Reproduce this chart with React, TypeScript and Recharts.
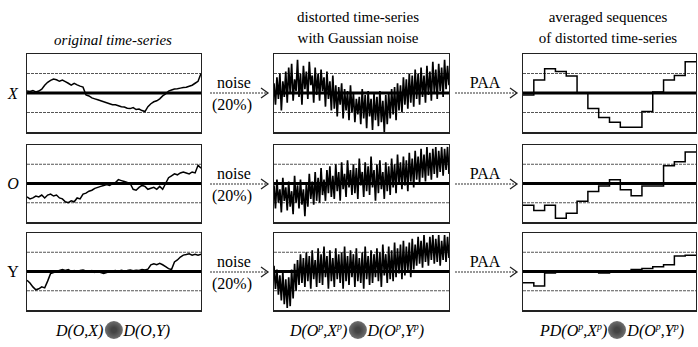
import React from "react"
import { LineChart, Line, XAxis, YAxis, ReferenceLine } from "recharts"

// ---- data (y units: grid at ±1, frame at ±2) ----

const originalX = [
  0.1, 0.08, 0.12, 0.05, 0.1, 0.2, 0.4, 0.55, 0.65, 0.72,
  0.68, 0.6, 0.66, 0.58, 0.5, 0.4, 0.5, 0.42, 0.35, 0.3,
  -0.1, -0.15, -0.25, -0.3, -0.35, -0.4, -0.45, -0.5, -0.55, -0.6,
  -0.6, -0.65, -0.7, -0.72, -0.78, -0.8, -0.75, -0.85, -0.82, -0.9,
  -0.95, -0.7, -0.55, -0.45, -0.4, -0.3, -0.15, -0.05, 0.1, 0.15,
  0.2, 0.22, 0.25, 0.28, 0.3, 0.35, 0.4, 0.5, 0.6, 1.0,
]

const originalO = [
  -0.7, -0.8, -0.75, -0.65, -0.7, -0.6, -0.75, -0.6, -0.55, -0.65,
  -0.6, -0.75, -0.8, -0.95, -1.0, -0.9, -0.95, -0.75, -0.8, -0.55,
  -0.5, -0.4, -0.35, -0.25, -0.2, -0.15, -0.1, -0.05, -0.1, 0.0,
  0.05, 0.2, 0.15, 0.1, 0.05, 0.0, -0.3, -0.35, -0.2, -0.1,
  -0.15, -0.3, -0.25, -0.2, -0.3, -0.15, -0.3, 0.0, 0.3, 0.4,
  0.5, 0.45, 0.55, 0.6, 0.55, 0.5, 0.6, 0.55, 0.95, 0.8,
]

const originalY = [
  -0.45, -0.6, -0.8, -0.95, -0.9, -0.8, -0.85, -0.5, -0.1, -0.05,
  0.0, 0.05, 0.1, 0.05, 0.1, 0.0, 0.05, -0.02, 0.05, 0.08,
  0.03, 0.0, 0.05, -0.05, 0.02, -0.05, -0.1, -0.05, 0.0, 0.03,
  0.05, 0.02, 0.06, 0.03, 0.05, 0.08, 0.04, 0.06, 0.05, 0.1,
  0.08, 0.12, 0.35, 0.4, 0.35, 0.42, 0.35, 0.25, 0.15, 0.1,
  0.5, 0.6, 0.75, 0.85, 0.88, 0.92, 0.85, 0.9, 0.85, 0.9,
]

const noisyX = [
  0.5, -0.6, 0.8, -0.3, 1.0, -0.9, 0.6, -0.2, 1.1, -0.5,
  1.3, 0.0, 1.5, -0.4, 0.7, 0.1, 1.7, -0.2, 1.0, -0.6,
  1.4, 0.2, 1.1, -0.3, 1.6, 0.4, 0.9, -0.5, 1.3, -0.1,
  1.0, -0.4, 1.2, 0.1, 0.8, -0.7, 1.1, -0.3, 0.6, -0.9,
  0.9, -0.8, 0.4, -1.2, 0.3, -0.6, 0.5, -1.3, 0.2, -0.9,
  0.1, -1.4, 0.4, -1.0, 0.0, -1.5, -0.3, -1.1, -0.2, -1.6,
  0.2, -1.3, -0.1, -1.8, 0.1, -1.2, -0.3, -1.9, 0.0, -1.4,
  -0.2, -1.7, 0.1, -1.5, -0.4, -2.0, -0.1, -1.6, 0.0, -1.3,
  0.2, -1.1, 0.3, -1.4, 0.5, -0.9, 0.4, -1.0, 0.8, -0.6,
  0.7, -0.8, 1.0, -0.5, 0.9, -0.7, 1.2, -0.3, 1.0, -0.6,
  1.3, -0.2, 0.9, -0.5, 1.4, -0.1, 1.1, -0.4, 1.6, 0.0,
  1.2, -0.3, 1.5, 0.1, 1.3, -0.2, 1.7, 0.2, 1.4, 0.4,
]

const noisyO = [
  -0.1, -1.3, 0.2, -1.0, -0.3, -1.5, 0.3, -0.9, -0.2, -1.4,
  0.1, -1.2, -0.4, -1.6, 0.4, -1.0, -0.1, -1.3, 0.2, -1.1,
  -0.3, -1.7, 0.0, -1.2, 0.5, -0.8, 0.1, -1.1, 0.6, -0.9,
  0.3, -1.0, 0.8, -0.6, 0.2, -0.9, 0.7, -0.5, 0.9, -0.7,
  0.4, -0.8, 1.0, -0.4, 0.6, -0.9, 1.1, -0.3, 0.5, -0.7,
  1.2, -0.2, 0.7, -0.6, 1.0, -0.5, 0.8, -0.8, 1.3, -0.1,
  0.6, -0.7, 1.1, -0.4, 0.9, -0.6, 1.4, -0.2, 0.7, -0.9,
  1.0, -0.5, 1.2, -0.3, 0.6, -0.8, 1.1, -0.4, 0.9, -0.6,
  1.3, -0.2, 1.0, -0.5, 1.5, 0.0, 1.1, -0.3, 1.4, -0.1,
  1.2, -0.4, 1.6, 0.1, 1.3, -0.2, 1.7, 0.2, 1.4, 0.0,
  1.8, 0.3, 1.5, 0.1, 1.9, 0.4, 1.6, 0.2, 1.8, 0.5,
  1.9, 0.3, 1.7, 0.6, 1.9, 0.4, 1.8, 0.7, 1.9, 0.5,
]

const noisyY = [
  0.3, -0.9, 0.1, -1.2, -0.2, -1.5, 0.0, -1.7, -0.4, -1.9,
  -0.3, -1.8, 0.1, -1.4, 0.4, -1.0, 0.6, -0.7, 0.9, -0.6,
  0.7, -0.8, 1.0, -0.5, 0.8, -0.9, 1.1, -0.4, 0.6, -0.8,
  1.2, -0.6, 0.9, -0.7, 1.3, -0.3, 0.8, -0.9, 1.1, -0.5,
  0.7, -0.8, 1.2, -0.4, 0.9, -0.6, 1.0, -0.9, 1.3, -0.5,
  0.8, -0.7, 1.1, -0.3, 0.9, -0.8, 1.2, -0.5, 0.7, -0.6,
  1.0, -0.9, 1.3, -0.4, 0.8, -0.7, 1.1, -0.6, 0.9, -0.3,
  1.2, -0.5, 1.0, -0.8, 1.4, -0.2, 0.9, -0.6, 1.3, -0.4,
  1.1, -0.5, 1.5, -0.3, 1.2, -0.1, 1.4, -0.4, 1.6, -0.2,
  1.3, 0.0, 1.5, -0.3, 1.7, 0.1, 1.4, 0.3, 1.8, 0.4,
  1.6, 0.2, 1.9, 0.5, 1.5, 0.3, 1.8, 0.6, 1.9, 0.4,
  1.7, 0.5, 1.9, 0.3, 1.6, 0.6, 1.9, 0.5, 1.8, 0.7,
]

// PAA: 16 segment means
const paaX = [-0.1, 0.67, 1.25, 1.1, 0.87, 0.0, -0.8, -1.25, -1.5, -1.75, -1.75, -0.95, 0.05, 0.67, 0.9, 1.6]
const paaO = [-1.13, -1.4, -1.13, -1.8, -1.55, -0.92, -0.42, -0.13, 0.2, -0.33, -0.63, -0.13, -0.13, 0.92, 1.13, 1.63]
const paaY = [-0.58, -0.75, -0.08, 0.0, 0.0, 0.0, 0.0, -0.08, 0.0, 0.0, 0.1, 0.15, 0.25, 0.35, 0.8, 0.85]

const rowLabels = ["X", "O", "Y"]

// ---- layout ----
const colLeft = [26, 273, 522]
const colWidth = [176, 177, 175]
const rowTop = [53, 144, 232]
const rowHeight = [81, 80, 80]

const serif = "'Liberation Serif', 'Times New Roman', serif"

type Kind = "line" | "noise" | "step"

function Panel({ values, kind, row, col }: { values: number[]; kind: Kind; row: number; col: number }) {
  const w = colWidth[col]
  const h = rowHeight[row]
  const data = values.map((v, i) => ({ x: i, v }))
  // step charts need a closing point so the last segment has width
  if (kind === "step") data.push({ x: values.length, v: values[values.length - 1] })
  const xMax = kind === "step" ? values.length : values.length - 1

  return (
    <div
      style={{
        position: "absolute",
        left: colLeft[col],
        top: rowTop[row],
        width: w,
        height: h,
        border: "1px solid #222",
        borderBottomWidth: 2,
        boxSizing: "border-box",
        background: "#fff",
      }}
    >
      <LineChart width={w - 2} height={h - 3} data={data} margin={{ top: 0, right: 0, bottom: 0, left: 0 }}>
        <XAxis type="number" dataKey="x" domain={[0, xMax]} hide />
        <YAxis type="number" domain={[-2, 2]} allowDataOverflow hide />
        <ReferenceLine y={1} stroke="#555" strokeDasharray="3 1" />
        <ReferenceLine y={-1} stroke="#555" strokeDasharray="3 1" />
        <ReferenceLine y={0} stroke="#000" strokeWidth={3} />
        <Line
          type={kind === "step" ? "stepAfter" : "linear"}
          dataKey="v"
          stroke="#000"
          strokeWidth={kind === "noise" ? 1.7 : 1.5}
          dot={false}
          isAnimationActive={false}
        />
      </LineChart>
    </div>
  )
}

function Blob() {
  return (
    <span
      style={{
        display: "inline-block",
        width: 18,
        height: 18,
        borderRadius: "50%",
        background: "radial-gradient(circle, #444 20%, #666 60%, #999 100%)",
        verticalAlign: -3,
        margin: "0 1px",
      }}
    />
  )
}

function Text({ x, y, children, size = 15, italic = false }: { x: number; y: number; children: React.ReactNode; size?: number; italic?: boolean }) {
  return (
    <div
      style={{
        position: "absolute",
        left: x,
        top: y,
        transform: "translate(-50%, -50%)",
        fontFamily: serif,
        fontSize: size,
        fontStyle: italic ? "italic" : "normal",
        whiteSpace: "nowrap",
        color: "#000",
        lineHeight: 1,
      }}
    >
      {children}
    </div>
  )
}

function Arrow({ x1, x2, y }: { x1: number; x2: number; y: number }) {
  return (
    <svg style={{ position: "absolute", left: 0, top: 0 }} width={698} height={347}>
      <line x1={x1} y1={y} x2={x2} y2={y} stroke="#333" strokeWidth={1.2} strokeDasharray="2 1" />
      <path d={`M${x2 - 7},${y - 5} L${x2},${y} L${x2 - 7},${y + 5}`} fill="none" stroke="#222" strokeWidth={1.3} />
    </svg>
  )
}

export default function App() {
  const series = [
    [originalX, noisyX, paaX],
    [originalO, noisyO, paaO],
    [originalY, noisyY, paaY],
  ]
  const kinds: Kind[] = ["line", "noise", "step"]
  const sup = { fontSize: 10 }

  return (
    <div style={{ position: "absolute", left: 0, top: 0, width: 698, height: 347, background: "#fff", overflow: "hidden" }}>
      <Text x={113} y={40} italic>original time-series</Text>
      <Text x={358} y={17}>distorted time-series</Text>
      <Text x={358} y={38}>with Gaussian noise</Text>
      <Text x={608} y={17}>averaged sequences</Text>
      <Text x={608} y={38}>of distorted time-series</Text>

      {rowLabels.map((label, r) => (
        <Text key={label} x={13} y={rowTop[r] + rowHeight[r] / 2} size={16} italic={label !== "Y"}>
          {label}
        </Text>
      ))}

      {series.map((row, r) =>
        row.map((values, c) => <Panel key={`${r}-${c}`} values={values} kind={kinds[c]} row={r} col={c} />)
      )}

      {rowTop.map((t, r) => (
        <React.Fragment key={r}>
          <Arrow x1={210} x2={268} y={t + 40} />
          <Text x={234} y={t + 30} size={16}>noise</Text>
          <Text x={232} y={t + 52} size={16}>(20%)</Text>
          <Arrow x1={455} x2={517} y={t + 40} />
          <Text x={485} y={t + 30} size={16}>PAA</Text>
        </React.Fragment>
      ))}

      <Text x={113} y={330} size={16} italic>
        D(O,X)<Blob />D(O,Y)
      </Text>
      <Text x={357} y={330} size={16} italic>
        D(O<sup style={sup}>p</sup>,X<sup style={sup}>p</sup>)<Blob />D(O<sup style={sup}>p</sup>,Y<sup style={sup}>p</sup>)
      </Text>
      <Text x={612} y={330} size={16} italic>
        PD(O<sup style={sup}>p</sup>,X<sup style={sup}>p</sup>)<Blob />D(O<sup style={sup}>p</sup>,Y<sup style={sup}>p</sup>)
      </Text>
    </div>
  )
}
